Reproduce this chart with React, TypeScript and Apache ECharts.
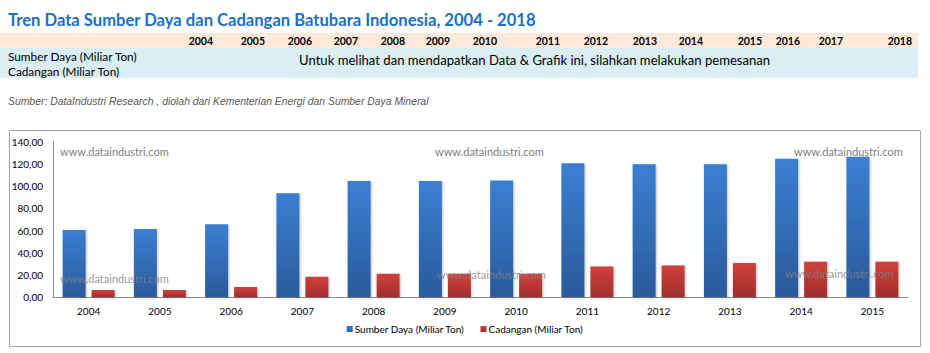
import React, { useEffect, useRef } from "react";
import * as echarts from "echarts";

const categories = ["2004", "2005", "2006", "2007", "2008", "2009", "2010", "2011", "2012", "2013", "2014", "2015"];
const sumberDaya = [60.5, 61.4, 65.7, 93.7, 104.8, 104.8, 105.2, 120.9, 120.0, 120.0, 124.8, 126.6];
const cadangan = [6.3, 6.3, 9.0, 18.3, 21.0, 21.0, 21.0, 27.6, 28.5, 30.7, 31.9, 31.9];
const tableYears = ["2004", "2005", "2006", "2007", "2008", "2009", "2010", "2011", "2012", "2013", "2014", "2015", "2016", "2017", "2018"];
const yearRightEdges = [213, 265, 312, 358, 405, 450, 497, 560, 608, 657, 703, 762, 800, 843, 912];
const seriesNames = ["Sumber Daya (Miliar Ton)", "Cadangan (Miliar Ton)"];
const titleText = "Tren Data Sumber Daya dan Cadangan Batubara Indonesia, 2004 - 2018";
const messageText = "Untuk melihat dan mendapatkan Data & Grafik ini, silahkan melakukan pemesanan";
const sourceText = "Sumber: DataIndustri Research , diolah dari Kementerian Energi dan Sumber Daya Mineral";
const watermark = "www.dataindustri.com";

const FONT = "Lato, 'Open Sans', sans-serif";

export default function App() {
  const ref = useRef<HTMLDivElement>(null);
  useEffect(() => {
    if (!ref.current) return;
    const chart = echarts.init(ref.current, null, { renderer: "svg" });
    const graphics: any[] = [];
    // chart box
    graphics.push({
      type: "rect", z: -10, silent: true,
      shape: { x: 9.5, y: 130.5, width: 911, height: 216 },
      style: { fill: "#ffffff", stroke: "#a6a6a6", lineWidth: 1 },
    });
    // title
    graphics.push({
      type: "text", x: 8, y: 20,
      style: { text: titleText, font: `bold 16.6px ${FONT}`, fill: "#1b6fc5", textVerticalAlign: "middle" },
    });
    // table bands
    graphics.push({ type: "rect", z: -5, shape: { x: 0, y: 33, width: 918, height: 15 }, style: { fill: "#fde9d9" } });
    graphics.push({ type: "rect", z: -5, shape: { x: 0, y: 48, width: 918, height: 30 }, style: { fill: "#daeef3" } });
    tableYears.forEach((yr, i) => {
      graphics.push({
        type: "text", x: yearRightEdges[i], y: 41,
        style: { text: yr, font: `bold 10.5px ${FONT}`, fill: "#000", textAlign: "right", textVerticalAlign: "middle" },
      });
    });
    graphics.push({
      type: "text", x: 8, y: 56,
      style: { text: seriesNames[0], font: `11.8px ${FONT}`, fill: "#000", textVerticalAlign: "middle" },
    });
    graphics.push({
      type: "text", x: 8, y: 71,
      style: { text: seriesNames[1], font: `11.8px ${FONT}`, fill: "#000", textVerticalAlign: "middle" },
    });
    graphics.push({
      type: "text", x: 299, y: 60,
      style: { text: messageText, font: `13.1px ${FONT}`, fill: "#000", textVerticalAlign: "middle" },
    });
    graphics.push({
      type: "text", x: 8, y: 101,
      style: { text: sourceText, font: `italic 10.4px 'Liberation Sans', Arial, sans-serif`, fill: "#595959", textVerticalAlign: "middle" },
    });
    // watermarks
    const wmTop = [[60, 151], [435, 151], [794, 151]];
    const wmBot = [[60, 278], [437, 274], [785, 273]];
    wmTop.forEach(([x, y]) => graphics.push({
      type: "text", x, y, z: 1,
      style: { text: watermark, font: `11px ${FONT}`, fill: "#808080", textVerticalAlign: "middle" },
    }));
    wmBot.forEach(([x, y]) => graphics.push({
      type: "text", x, y, z: 100,
      style: { text: watermark, font: `11px ${FONT}`, fill: "rgba(128,128,128,0.8)", textVerticalAlign: "middle" },
    }));

    const blueGrad = new echarts.graphic.LinearGradient(0, 0, 0, 1, [
      { offset: 0, color: "#3b7fd2" },
      { offset: 1, color: "#2a5a9b" },
    ]);
    const redGrad = new echarts.graphic.LinearGradient(0, 0, 0, 1, [
      { offset: 0, color: "#d2413d" },
      { offset: 1, color: "#a02e2b" },
    ]);

    chart.setOption({
      animation: false,
      textStyle: { fontFamily: FONT },
      graphic: graphics,
      grid: { left: 53, right: 22, top: 142, bottom: 56, containLabel: false },
      legend: {
        bottom: 14, left: "center",
        itemWidth: 6, itemHeight: 6, itemGap: 16,
        icon: "rect",
        textStyle: { fontSize: 10, color: "#000", fontFamily: FONT, padding: [0, 0, 0, -3] },
        data: seriesNames,
      },
      xAxis: {
        type: "category", data: categories,
        axisLine: { lineStyle: { color: "#868686" } },
        axisTick: { show: false },
        axisLabel: { color: "#000", fontSize: 10, margin: 9, fontFamily: FONT },
      },
      yAxis: {
        type: "value", min: 0, max: 140, interval: 20,
        axisLine: { show: true, lineStyle: { color: "#868686" } },
        axisTick: { show: false },
        splitLine: { show: false },
        axisLabel: {
          color: "#000", fontSize: 10, margin: 10, fontFamily: FONT,
          formatter: (v: number) => v.toFixed(2).replace(".", ","),
        },
      },
      series: [
        {
          name: seriesNames[0], type: "bar", data: sumberDaya,
          barWidth: 23, barGap: "26%",
          itemStyle: { color: blueGrad, shadowBlur: 2, shadowColor: "rgba(0,0,0,0.25)", shadowOffsetX: 1, shadowOffsetY: 1 },
        },
        {
          name: seriesNames[1], type: "bar", data: cadangan,
          barWidth: 23, barGap: "26%",
          itemStyle: { color: redGrad, shadowBlur: 2, shadowColor: "rgba(0,0,0,0.25)", shadowOffsetX: 1, shadowOffsetY: 1 },
        },
      ],
    });
    return () => chart.dispose();
  }, []);
  return <div ref={ref} style={{ position: "absolute", left: 0, top: 0, width: 930, height: 353 }} />;
}
